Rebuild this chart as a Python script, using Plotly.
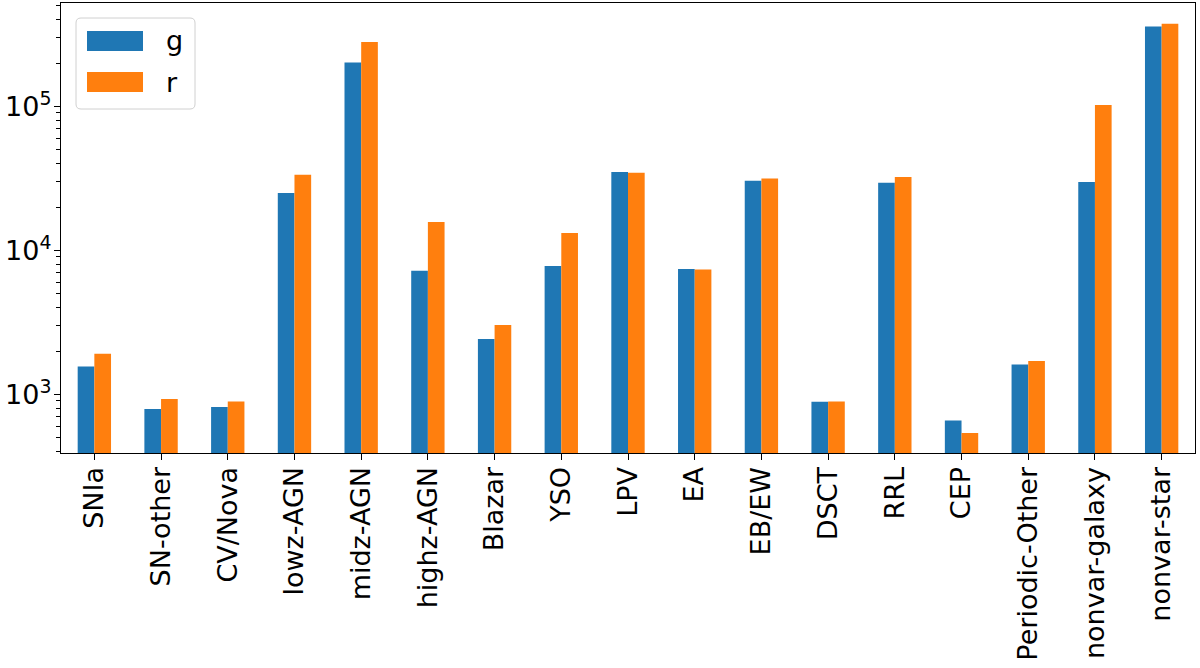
import plotly.graph_objects as go

categories = ["SNIa", "SN-other", "CV/Nova", "lowz-AGN", "midz-AGN", "highz-AGN",
              "Blazar", "YSO", "LPV", "EA", "EB/EW", "DSCT", "RRL", "CEP",
              "Periodic-Other", "nonvar-galaxy", "nonvar-star"]
g_values = [1564, 793, 817, 25030, 202100, 7227, 2425, 7800, 35000, 7430, 30480,
            890, 29500, 659, 1616, 29850, 359400]
r_values = [1918, 929, 894, 33550, 280000, 15740, 3033, 13210, 34650, 7380, 31600,
            894, 32350, 540, 1706, 102200, 375000]
series_names = ["g", "r"]
y_tickvals = [1e3, 1e4, 1e5]
y_ticktext = ["10<sup>3</sup>", "10<sup>4</sup>", "10<sup>5</sup>"]

BLUE = "#1f77b4"
ORANGE = "#ff7f0e"
FONT = "DejaVu Sans"
FS = 27

W, H = 1200, 668
L, R, T, B = 61, 1195, 3, 453  # plot area in pixels


def px(x):
    return (x - L) / (R - L)


def py(y):
    return (B - y) / (B - T)


fig = go.Figure()
fig.add_trace(go.Bar(x=categories, y=g_values, name=series_names[0],
                     marker=dict(color=BLUE, line=dict(width=0)), showlegend=False))
fig.add_trace(go.Bar(x=categories, y=r_values, name=series_names[1],
                     marker=dict(color=ORANGE, line=dict(width=0)), showlegend=False))

# custom legend (matplotlib style)
bx0, bx1, by0, by1, rad = 76, 195, 18, 109, 5
rx, ry = rad / (R - L), rad / (B - T)
x0, x1, y0, y1 = px(bx0), px(bx1), py(by1), py(by0)
path = (f"M{x0+rx},{y0} L{x1-rx},{y0} Q{x1},{y0} {x1},{y0+ry} "
        f"L{x1},{y1-ry} Q{x1},{y1} {x1-rx},{y1} L{x0+rx},{y1} Q{x0},{y1} {x0},{y1-ry} "
        f"L{x0},{y0+ry} Q{x0},{y0} {x0+rx},{y0} Z")
shapes = [dict(type="path", path=path, xref="paper", yref="paper",
               fillcolor="rgba(255,255,255,0.8)", line=dict(color="#d0d0d0", width=1))]
annotations = []
for i, (name, col) in enumerate(zip(series_names, [BLUE, ORANGE])):
    top = 31 + i * 41
    shapes.append(dict(type="rect", xref="paper", yref="paper",
                       x0=px(87), x1=px(143), y0=py(top + 20), y1=py(top),
                       fillcolor=col, line=dict(width=0)))
    annotations.append(dict(text=name, x=px(164), y=py(top + 10), xref="paper", yref="paper",
                            xanchor="left", yanchor="middle", showarrow=False,
                            font=dict(family=FONT, size=FS, color="black")))

fig.update_layout(
    width=W, height=H,
    margin=dict(l=L, r=W - R, t=T, b=H - B, pad=0, autoexpand=False),
    paper_bgcolor="white", plot_bgcolor="white",
    barmode="group", bargap=0.5, bargroupgap=0,
    font=dict(family=FONT, size=FS, color="black"),
    shapes=shapes, annotations=annotations,
    showlegend=False,
)
fig.update_xaxes(
    type="category", range=[-0.5, len(categories) - 0.5], automargin=False,
    tickangle=-90, ticks="outside", ticklen=6, tickwidth=1.3, tickcolor="black",
    ticklabelstandoff=-4,
    showline=True, linecolor="black", linewidth=1.3, mirror=True,
    showgrid=False, tickfont=dict(family=FONT, size=FS, color="black"),
)
fig.update_yaxes(
    type="log", range=[2.593, 5.718], automargin=False,
    tickvals=y_tickvals, ticktext=y_ticktext, ticklabelstandoff=-3,
    ticks="outside", ticklen=6, tickwidth=1.3, tickcolor="black",
    minor=dict(ticks="outside", ticklen=3.5, tickwidth=1, tickcolor="black", dtick="D1", showgrid=False),
    showline=True, linecolor="black", linewidth=1.3, mirror=True,
    showgrid=False, zeroline=False, tickfont=dict(family=FONT, size=FS, color="black"),
)

fig.write_html("out.html", config={"displayModeBar": False},
               post_script="document.body.style.margin='0';")
